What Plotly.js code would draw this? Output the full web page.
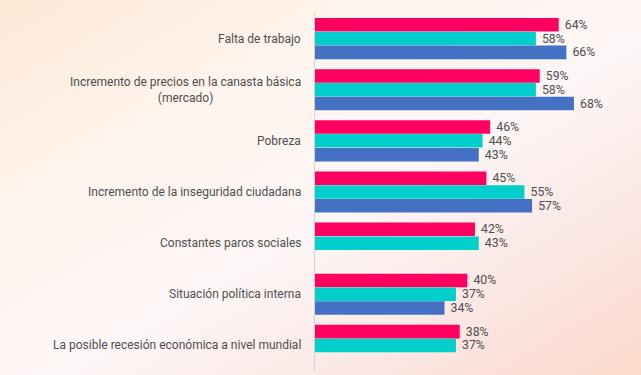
<!DOCTYPE html>
<html>
<head>
<meta charset="utf-8">
<script src="https://cdn.plot.ly/plotly-3.0.1.min.js"></script>
<style>
  html, body { margin: 0; padding: 0; width: 641px; height: 375px; overflow: hidden; }
  body { background: linear-gradient(150deg, #fde8d6 0%, #fff5ee 30%, #fdf6f6 55%, #fbe7e3 78%, #fcd9cb 100%); }
  #chart { width: 641px; height: 375px; }
</style>
</head>
<body>
<div id="chart"></div>
<script>
const categories = [
  "Falta de trabajo",
  "Incremento de precios en la canasta básica<br>(mercado)",
  "Pobreza",
  "Incremento de la inseguridad ciudadana",
  "Constantes paros sociales",
  "Situación política interna",
  "La posible recesión económica a nivel mundial"
];
const seriesA = [64, 59, 46, 45, 42, 40, 38];
const seriesB = [58, 58, 44, 55, 43, 37, 37];
const seriesC = [66, 68, 43, 57, null, 34, null];
const colors = ["#ff0061", "#00cfcb", "#4471c4"];

function mk(vals, color) {
  return {
    type: "bar", orientation: "h", y: categories, x: vals,
    marker: { color: color, line: { width: 0 } },
    texttemplate: " %{x}%", textposition: "outside", constraintext: "none",
    cliponaxis: false,
    textfont: { family: "Roboto, sans-serif", size: 12.3, color: "#4f4f4f" },
    hoverinfo: "none", showlegend: false
  };
}
const data = [mk(seriesA, colors[0]), mk(seriesB, colors[1]), mk(seriesC, colors[2])];

const annotations = categories.map(c => ({
  xref: "paper", yref: "y", x: 0, y: c, xanchor: "right", yanchor: "middle",
  xshift: -12, align: "center", text: c, showarrow: false,
  font: { family: "Roboto, sans-serif", size: 12, color: "#4f4f4f" }
}));

const layout = {
  width: 641, height: 375,
  margin: { l: 315, r: 0, t: 13, b: 4, pad: 0 },
  paper_bgcolor: "rgba(0,0,0,0)", plot_bgcolor: "rgba(0,0,0,0)",
  barmode: "group", bargap: 0.19, bargroupgap: 0.02,
  xaxis: { range: [0, 85.6], showgrid: false, zeroline: false, showticklabels: false, ticks: "", fixedrange: true },
  yaxis: { autorange: "reversed", showticklabels: false, ticks: "", showgrid: false, zeroline: false,
           showline: true, linecolor: "#d6d0d0", linewidth: 1 },
  annotations: annotations,
  font: { family: "Roboto, sans-serif" }
};
Plotly.newPlot("chart", data, layout, { displayModeBar: false, staticPlot: true });
</script>
</body>
</html>
